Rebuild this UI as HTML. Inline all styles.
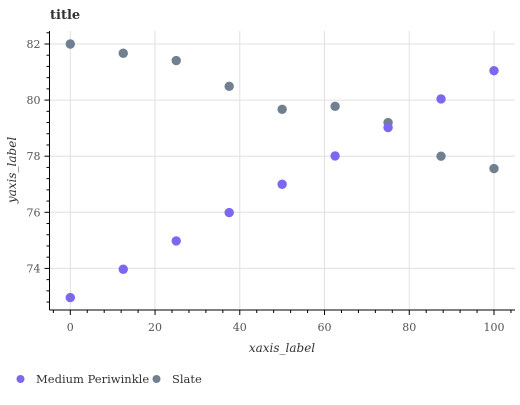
<!DOCTYPE html>
<html><head><meta charset="utf-8"><style>
body{margin:0;background:#fff;}
svg text{font-family:"DejaVu Serif","Liberation Serif",serif;}
</style></head><body>
<svg id="chart" width="520" height="400" xmlns="http://www.w3.org/2000/svg"></svg>
<script>
const xValues=[0,12.5,25,37.5,50,62.5,75,87.5,100];
const periwinkleValues=[72.96,73.97,74.98,75.99,77.0,78.01,79.02,80.04,81.05];
const slateValues=[82.0,81.67,81.41,80.49,79.67,79.78,79.2,78.0,77.56];
const xTicks=[0,20,40,60,80,100];
const yTicks=[74,76,78,80,82];
const NS="http://www.w3.org/2000/svg";
const svg=document.getElementById('chart');
const L=49.5,R=515,T=31,B=310;
const xs=v=>70.3+(v-0)*4.237;
const ys=v=>44-(v-82)*28.05;
function mk(t,a,p){const e=document.createElementNS(NS,t);for(const k in a)e.setAttribute(k,a[k]);(p||svg).appendChild(e);return e;}
const grid=mk('g',{});


xTicks.forEach(v=>{const l=mk('line',{x1:xs(v),x2:xs(v),y1:T,y2:B,stroke:'#e0e0e0','stroke-width':1},grid);

});
yTicks.forEach(v=>{const l=mk('line',{x1:L,x2:R,y1:ys(v),y2:ys(v),stroke:'#e0e0e0','stroke-width':1},grid);

});
const ax=mk('g',{stroke:'#000','stroke-width':1});


mk('line',{x1:L,x2:L,y1:T,y2:B},ax);
mk('line',{x1:L,x2:R,y1:B,y2:B},ax);
for(let v=-4;v<=104;v+=4){mk('line',{x1:xs(v),x2:xs(v),y1:B,y2:B+(v%20==0?5:3)},ax);}
for(let v=72.8;v<=82.41;v+=0.4){const r=Math.round(v*10)/10;const maj=Math.abs(r-Math.round(r))<0.01&&Math.round(r)%2==0;mk('line',{x1:L-(maj?5:3),x2:L,y1:ys(r),y2:ys(r)},ax);}
xTicks.forEach(v=>{const t=mk('text',{x:xs(v),y:B+21,'text-anchor':'middle','font-size':11,fill:'#555'});t.textContent=v;

});
yTicks.forEach(v=>{const t=mk('text',{x:L-9,y:ys(v)+4,'text-anchor':'end','font-size':11,fill:'#555'});t.textContent=v;

});
function series(vals,color,name){const g=mk('g',{});


vals.forEach((v,i)=>{const c=mk('circle',{cx:xs(xValues[i]),cy:ys(v),r:4.7,fill:color},g);

});}
series(slateValues,'#708090','slate-series');
series(periwinkleValues,'#7B68EE','medium-periwinkle-series');
let t=mk('text',{x:50,y:19,'font-size':13,'font-weight':'bold',fill:'#333'});t.textContent='title';


t=mk('text',{x:282,y:352,'text-anchor':'middle','font-size':12,'font-style':'italic',fill:'#333'});t.textContent='xaxis_label';


t=mk('text',{x:0,y:0,'text-anchor':'middle','font-size':12,'font-style':'italic',fill:'#333',transform:'translate(16,170) rotate(-90)'});t.textContent='yaxis_label';


const lg=mk('g',{});


let c=mk('circle',{cx:20.5,cy:379,r:4,fill:'#7B68EE'},lg);


t=mk('text',{x:36,y:383,'font-size':11.5,fill:'#333'},lg);t.textContent='Medium Periwinkle';


c=mk('circle',{cx:156.5,cy:379,r:4,fill:'#708090'},lg);


t=mk('text',{x:172,y:383,'font-size':11.5,fill:'#333'},lg);t.textContent='Slate';


</script>
</body></html>
